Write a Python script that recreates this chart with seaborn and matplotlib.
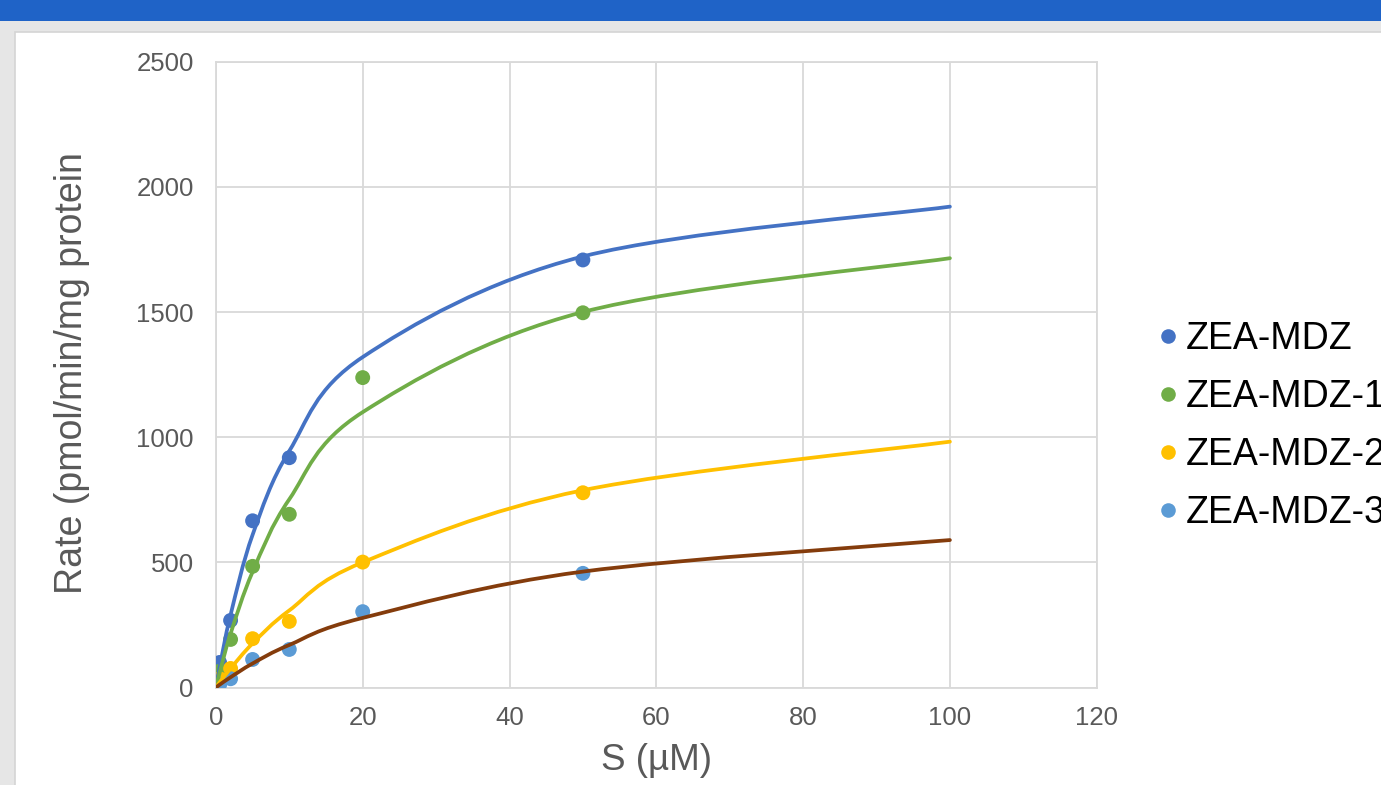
import numpy as np
import pandas as pd
import matplotlib
matplotlib.use("Agg")
import matplotlib.pyplot as plt
from matplotlib.path import Path
from matplotlib.patches import PathPatch, Rectangle
from matplotlib.lines import Line2D
import seaborn as sns

# Measured rates (pmol/min/mg protein) at each substrate concentration (µM)
substrate = [0.5, 2, 5, 10, 20, 50]
rate_zea_mdz = [100, 268, 666, 918, np.nan, 1708]
rate_zea_mdz1 = [65, 192, 484, 692, 1238, 1497]
rate_zea_mdz2 = [35, 76, 195, 264, 501, 778]
rate_zea_mdz3 = [10, 35, 112, 152, 303, 456]

# Fitted Michaelis-Menten curves evaluated at these concentrations
fit_substrate = [0, 0.5, 2, 5, 10, 20, 50, 100]
fit_zea_mdz = [0, 80, 290, 610, 945, 1320, 1722, 1921]
fit_zea_mdz1 = [0, 58, 215, 462, 752, 1100, 1500, 1715]
fit_zea_mdz2 = [0, 20, 76, 176, 308, 500, 788, 982]
fit_zea_mdz3 = [0, 11, 41, 96, 170, 278, 463, 589]

series_names = ["ZEA-MDZ", "ZEA-MDZ-1", "ZEA-MDZ-2", "ZEA-MDZ-3"]
point_colors = ["#4472C4", "#70AD47", "#FFC000", "#5B9BD5"]
fit_colors = ["#4472C4", "#70AD47", "#FFC000", "#843C0C"]

x_ticks = [0, 20, 40, 60, 80, 100, 120]
y_ticks = [0, 500, 1000, 1500, 2000, 2500]

W, H, DPI = 1381, 785, 100

sns.set_theme(style="white")
plt.rcParams["font.family"] = ["Liberation Sans", "DejaVu Sans"]

fig = plt.figure(figsize=(W / DPI, H / DPI), dpi=DPI, facecolor="#E6E6E6")

# window chrome: title bar and white chart panel
fig.add_artist(Rectangle((0, 1 - 20.5 / H), 1, 20.5 / H, transform=fig.transFigure,
                         facecolor="#1F63C7", edgecolor="none", zorder=0))
fig.add_artist(Rectangle((15 / W, -0.01), 1.0, 1 - 32 / H + 0.01, transform=fig.transFigure,
                         facecolor="white", edgecolor="#D4D4D4", lw=1.2, zorder=0))

ax_left, ax_right = 215.9 / W, 1096.7 / W
ax_bottom, ax_top = 1 - 687.5 / H, 1 - 61.7 / H
ax = fig.add_axes([ax_left, ax_bottom, ax_right - ax_left, ax_top - ax_bottom])
ax.set_facecolor("none")

# scatter of measured points
frames = []
for name, vals in zip(series_names, [rate_zea_mdz, rate_zea_mdz1, rate_zea_mdz2, rate_zea_mdz3]):
    frames.append(pd.DataFrame({"S": substrate, "Rate": vals, "Series": name}))
df = pd.concat(frames, ignore_index=True).dropna()

sns.scatterplot(data=df, x="S", y="Rate", hue="Series", hue_order=series_names,
                palette=dict(zip(series_names, point_colors)), s=115, linewidth=0,
                legend=False, ax=ax, zorder=3)


def smooth_path(xs, ys):
    """Cubic Bezier path through the points (Catmull-Rom style smoothing)."""
    pts = np.column_stack([xs, ys]).astype(float)
    n = len(pts)
    verts = [pts[0]]
    codes = [Path.MOVETO]
    for i in range(n - 1):
        p0 = pts[i - 1] if i > 0 else pts[i]
        p1 = pts[i]
        p2 = pts[i + 1]
        p3 = pts[i + 2] if i + 2 < n else pts[i + 1]
        verts += [p1 + (p2 - p0) / 6.0, p2 - (p3 - p1) / 6.0, p2]
        codes += [Path.CURVE4] * 3
    return Path(verts, codes)


for vals, col in zip([fit_zea_mdz, fit_zea_mdz1, fit_zea_mdz2, fit_zea_mdz3], fit_colors):
    patch = PathPatch(smooth_path(fit_substrate, vals), facecolor="none", edgecolor=col,
                      lw=2.7, capstyle="round", joinstyle="round", zorder=4,
                      transform=ax.transData)
    ax.add_patch(patch)

ax.set_xlim(0, 120)
ax.set_ylim(0, 2500)
ax.set_xticks(x_ticks)
ax.set_yticks(y_ticks)
ax.grid(True, color="#D9D9D9", lw=1.3)
ax.set_axisbelow(True)
for sp in ax.spines.values():
    sp.set_color("#D9D9D9")
    sp.set_linewidth(1.3)
ax.tick_params(axis="both", length=0, labelsize=18.5, labelcolor="#595959")
ax.tick_params(axis="y", pad=16)
ax.tick_params(axis="x", pad=13)

ax.set_xlabel("S (µM)", fontsize=26.5, color="#595959")
ax.xaxis.set_label_coords(0.5, (687.5 - 760) / 625.8)
ax.xaxis.label.set_verticalalignment("center")
ax.set_ylabel("Rate (pmol/min/mg protein", fontsize=27, color="#595959")
ax.yaxis.set_label_coords((72 - 215.9) / 880.8, (687.5 - 373) / 625.8)
ax.yaxis.label.set_verticalalignment("center")

handles = [Line2D([], [], marker="o", ls="", color=c, markersize=10.5, markeredgewidth=0)
           for c in point_colors]
fig.legend(handles, series_names, loc="upper left",
           bbox_to_anchor=(1158 / W, 1 - 321 / H), frameon=False, fontsize=27,
           borderpad=0, borderaxespad=0, handlelength=0.55, handletextpad=0.2,
           labelspacing=0.59, labelcolor="black")

fig.savefig("out.png", dpi=DPI, facecolor=fig.get_facecolor())
